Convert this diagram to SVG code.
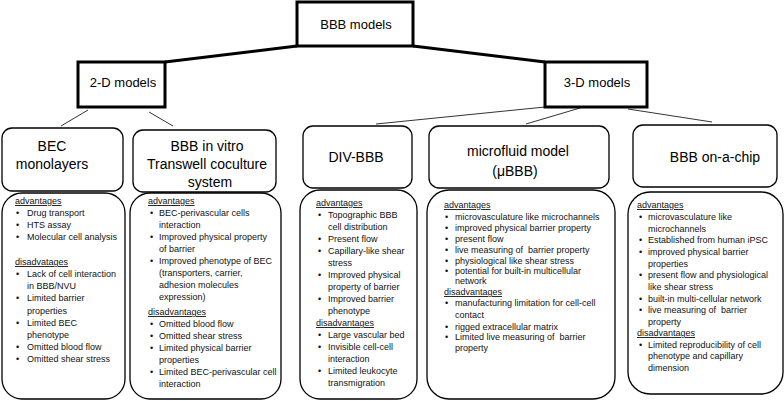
<svg xmlns="http://www.w3.org/2000/svg" width="784" height="401" viewBox="0 0 784 401">
<style>
.bg{fill:#fff}
.hdr{fill:#fff;stroke:#000;stroke-width:3}
.node{fill:#fff;stroke:#000;stroke-width:1.3}
.panel{fill:#fff;stroke:#000;stroke-width:1.3}
.thick{stroke:#000;stroke-width:3;fill:none}
.thin{stroke:#333;stroke-width:1;fill:none}
text{font-family:"Liberation Sans",Arial,sans-serif;fill:#000}
.t13{font-size:13px}
.t14{font-size:14px}
.b{font-size:9px;fill:#111}
.u{text-decoration:underline}
</style>
<rect class="bg" x="0" y="0" width="784" height="401"/>
<g id="connectors">
<line class="thick" x1="297" y1="46" x2="165" y2="62"/>
<line class="thick" x1="413" y1="46" x2="545" y2="62"/>
<line class="thin" x1="88" y1="110" x2="61" y2="126"/>
<line class="thin" x1="149" y1="112" x2="173" y2="126"/>
<line class="thin" x1="545" y1="107" x2="376" y2="124"/>
<line class="thin" x1="580" y1="108" x2="526" y2="124"/>
<line class="thin" x1="628" y1="109" x2="712" y2="122"/>
</g>
<g id="bbb-models">
<rect class="hdr" x="297" y="2" width="116" height="44"/>
<text class="t13" x="356" y="29" text-anchor="middle">BBB models</text>
</g>
<g id="models-2d">
<rect class="hdr" x="78" y="62" width="87" height="45"/>
<text class="t13" x="123" y="87" text-anchor="middle">2-D models</text>
</g>
<g id="models-3d">
<rect class="hdr" x="545" y="62" width="102" height="45"/>
<text class="t13" x="597" y="87" text-anchor="middle">3-D models</text>
</g>
<g id="bec-monolayers">
<rect class="node" x="2" y="128" width="121" height="63" rx="10"/>
<text class="t14" x="52" y="151" text-anchor="middle">BEC</text>
<text class="t14" x="52" y="169" text-anchor="middle">monolayers</text>
</g>
<g id="transwell">
<rect class="node" x="133" y="130" width="143" height="62" rx="10"/>
<text class="t14" x="207" y="151" text-anchor="middle">BBB in vitro</text>
<text class="t14" x="207" y="169" text-anchor="middle">Transwell coculture</text>
<text class="t14" x="210" y="187" text-anchor="middle">system</text>
</g>
<g id="div-bbb">
<rect class="node" x="303" y="126" width="109" height="62" rx="10"/>
<text class="t14" x="356" y="162" text-anchor="middle">DIV-BBB</text>
</g>
<g id="microfluid">
<rect class="node" x="429" y="126" width="180" height="62" rx="10"/>
<text class="t14" x="518" y="156" text-anchor="middle">microfluid model</text>
<text class="t14" x="515" y="176" text-anchor="middle">(μBBB)</text>
</g>
<g id="on-a-chip">
<rect class="node" x="633" y="125" width="144" height="62" rx="10"/>
<text class="t14" x="715" y="162" text-anchor="middle">BBB on-a-chip</text>
</g>
<g id="bec-details">
<rect class="panel" x="2" y="193" width="123" height="206" rx="20"/>
<text class="b u" x="15" y="204">advantages</text>
<g class="b">
<text class="b" x="16" y="216">•</text><text class="b" x="27" y="216">Drug transport</text>
<text class="b" x="16" y="228">•</text><text class="b" x="27" y="228">HTS assay</text>
<text class="b" x="16" y="240">•</text><text class="b" x="27" y="240">Molecular cell analysis</text>
</g>
<text class="b u" x="15" y="265">disadvatages</text>
<text class="b" x="16" y="277">•</text><text class="b" x="27" y="277">Lack of cell interaction</text>
<text class="b" x="27" y="289">in BBB/NVU</text>
<text class="b" x="16" y="301">•</text><text class="b" x="27" y="301">Limited barrier</text>
<text class="b" x="27" y="313.5">properties</text>
<text class="b" x="16" y="325.5">•</text><text class="b" x="27" y="325.5">Limited BEC</text>
<text class="b" x="27" y="337.5">phenotype</text>
<text class="b" x="16" y="349.5">•</text><text class="b" x="27" y="349.5">Omitted blood flow</text>
<text class="b" x="16" y="361.5">•</text><text class="b" x="27" y="361.5">Omitted shear stress</text>
</g>
<g id="transwell-details">
<rect class="panel" x="130" y="193" width="151" height="206" rx="20"/>
<text class="b u" x="148" y="204">advantages</text>
<text class="b" x="150" y="216">•</text><text class="b" x="159" y="216">BEC-perivascular cells</text>
<text class="b" x="159" y="228">interaction</text>
<text class="b" x="150" y="240">•</text><text class="b" x="159" y="240">Improved physical property</text>
<text class="b" x="159" y="252">of barrier</text>
<text class="b" x="150" y="264">•</text><text class="b" x="159" y="264">Improved phenotype of BEC</text>
<text class="b" x="159" y="276">(transporters, carrier,</text>
<text class="b" x="159" y="288">adhesion molecules</text>
<text class="b" x="159" y="300">expression)</text>
<text class="b u" x="148" y="315">disadvantages</text>
<text class="b" x="150" y="327">•</text><text class="b" x="159" y="327">Omitted blood flow</text>
<text class="b" x="150" y="339">•</text><text class="b" x="159" y="339">Omitted shear stress</text>
<text class="b" x="150" y="351">•</text><text class="b" x="159" y="351">Limited physical barrier</text>
<text class="b" x="159" y="363">properties</text>
<text class="b" x="150" y="375">•</text><text class="b" x="159" y="375">Limited BEC-perivascular cell</text>
<text class="b" x="159" y="387">interaction</text>
</g>
<g id="div-details">
<rect class="panel" x="300" y="190" width="117" height="209" rx="20"/>
<text class="b u" x="316" y="206">advantages</text>
<text class="b" x="318" y="218">•</text><text class="b" x="328" y="218">Topographic BBB</text>
<text class="b" x="328" y="230">cell distribution</text>
<text class="b" x="318" y="242">•</text><text class="b" x="328" y="242">Present flow</text>
<text class="b" x="318" y="254">•</text><text class="b" x="328" y="254">Capillary-like shear</text>
<text class="b" x="328" y="266">stress</text>
<text class="b" x="318" y="278">•</text><text class="b" x="328" y="278">Improved physical</text>
<text class="b" x="328" y="290">property of barrier</text>
<text class="b" x="318" y="302">•</text><text class="b" x="328" y="302">Improved barrier</text>
<text class="b" x="328" y="314">phenotype</text>
<text class="b u" x="316" y="326">disadvantages</text>
<text class="b" x="318" y="338">•</text><text class="b" x="328" y="338">Large vascular bed</text>
<text class="b" x="318" y="350">•</text><text class="b" x="328" y="350">Invisible cell-cell</text>
<text class="b" x="328" y="361.5">interaction</text>
<text class="b" x="318" y="374">•</text><text class="b" x="328" y="374">Limited leukocyte</text>
<text class="b" x="328" y="386">transmigration</text>
</g>
<g id="microfluid-details">
<rect class="panel" x="427" y="190" width="188" height="209" rx="22"/>
<text class="b u" x="444" y="208">advantages</text>
<text class="b" x="445" y="219.5">•</text><text class="b" x="455" y="219.5">microvasculature like microchannels</text>
<text class="b" x="445" y="230.5">•</text><text class="b" x="455" y="230.5">improved physical barrier property</text>
<text class="b" x="445" y="241.5">•</text><text class="b" x="455" y="241.5">present flow</text>
<text class="b" x="445" y="253">•</text><text class="b" x="455" y="253" xml:space="preserve">live measuring of  barrier property</text>
<text class="b" x="445" y="263.5">•</text><text class="b" x="455" y="263.5">physiological like shear stress</text>
<text class="b" x="445" y="274">•</text><text class="b" x="455" y="274">potential for built-in multicellular</text>
<text class="b" x="455" y="284">network</text>
<text class="b u" x="444" y="295">disadvantages</text>
<text class="b" x="445" y="306">•</text><text class="b" x="455" y="306">manufacturing limitation for cell-cell</text>
<text class="b" x="455" y="318">contact</text>
<text class="b" x="445" y="329.5">•</text><text class="b" x="455" y="329.5">rigged extracellular matrix</text>
<text class="b" x="445" y="339.5">•</text><text class="b" x="455" y="339.5" xml:space="preserve">Limited live measuring of  barrier</text>
<text class="b" x="455" y="351">property</text>
</g>
<g id="on-a-chip-details">
<rect class="panel" x="628" y="192" width="155" height="202" rx="22"/>
<text class="b u" x="637" y="208">advantages</text>
<text class="b" x="639" y="220">•</text><text class="b" x="648" y="220">microvasculature like</text>
<text class="b" x="648" y="231.5">microchannels</text>
<text class="b" x="639" y="243">•</text><text class="b" x="648" y="243">Established from human iPSC</text>
<text class="b" x="639" y="255">•</text><text class="b" x="648" y="255">improved physical barrier</text>
<text class="b" x="648" y="266.5">properties</text>
<text class="b" x="639" y="278">•</text><text class="b" x="648" y="278">present flow and physiological</text>
<text class="b" x="648" y="290">like shear stress</text>
<text class="b" x="639" y="302">•</text><text class="b" x="648" y="302">built-in multi-cellular network</text>
<text class="b" x="639" y="313">•</text><text class="b" x="648" y="313" xml:space="preserve">live measuring of  barrier</text>
<text class="b" x="648" y="324.5">property</text>
<text class="b u" x="637" y="336">disadvantages</text>
<text class="b" x="639" y="348">•</text><text class="b" x="648" y="348">Limited reproducibility of cell</text>
<text class="b" x="648" y="359">phenotype and capillary</text>
<text class="b" x="648" y="371">dimension</text>
</g>
</svg>
